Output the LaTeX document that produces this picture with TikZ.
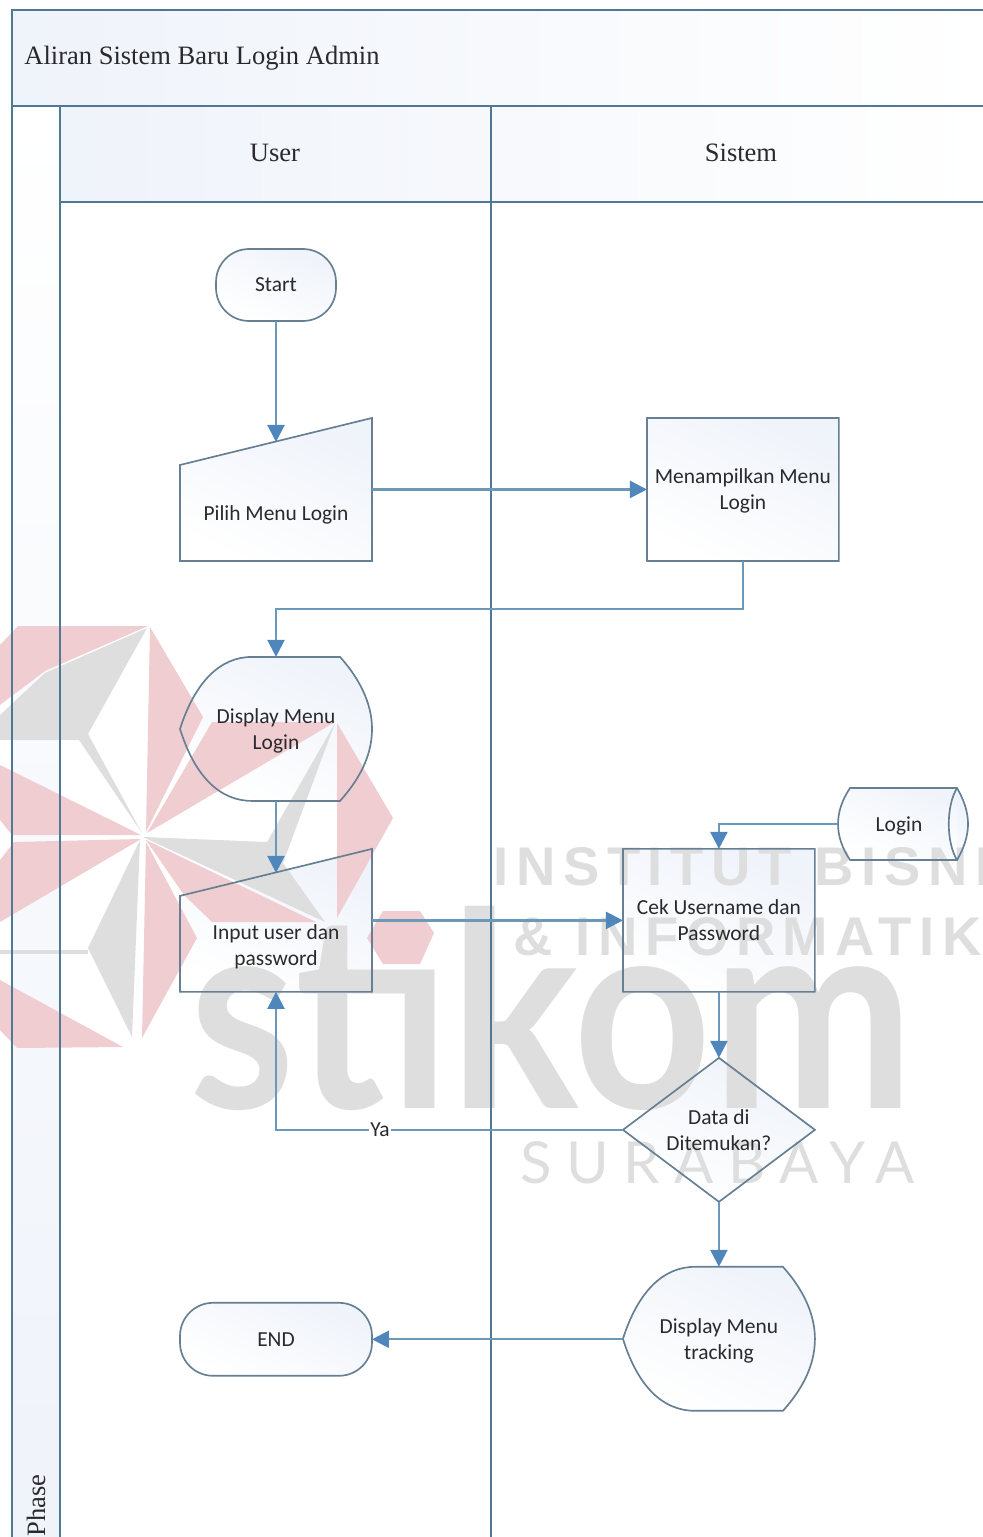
\documentclass[tikz,border=0pt]{standalone}
\usepackage{fontspec}
\usepackage{xcolor}
\usetikzlibrary{arrows.meta,positioning,calc}
\setmainfont{Carlito}
\newfontfamily\titlefont{Liberation Serif}
\newfontfamily\markfont{Lato}
\newfontfamily\markwide[LetterSpace=14]{Liberation Sans}
\newfontfamily\markthin[LetterSpace=25]{Lato}
\definecolor{Tint}{HTML}{EFF3FA}
\definecolor{Edge}{HTML}{667F92}
\definecolor{Lane}{HTML}{4F7894}
\definecolor{Wire}{HTML}{6C98BA}
\definecolor{Tip}{HTML}{4F87BC}
\definecolor{Ink}{HTML}{2A2A2E}
\definecolor{MarkPink}{HTML}{F0CDD1}
\definecolor{MarkGrey}{HTML}{DEDEDE}
\pgfdeclarelayer{back}
\pgfsetlayers{back,main}
\tikzset{
  x=0.02cm,y=-0.02cm,
  flowbox/.style={rectangle,inner sep=0pt,outer sep=0pt,minimum width=3.84cm,align=center,text=Ink,text depth=0pt,font=\fontsize{12.2}{14.7}\selectfont},
  headtext/.style={inner sep=0pt,text=Ink,font=\titlefont\fontsize{15.1}{18}\selectfont},
  tintfill/.style={top color=Tint,bottom color=white,shading angle=-25},
  outline/.style={draw=Edge,line width=0.95pt},
  lane/.style={draw=Lane,line width=0.9pt},
  arr/.style={-{Triangle[length=0.34cm,width=0.34cm,color=Tip]},draw=Wire,line width=1.35pt}
}
% the symbol outlines, from the north west corner of their node
\newcommand{\manualpath}{(0,47) -- (192,0) -- (192,143) -- (0,143) -- cycle}
\newcommand{\displaypath}{(0,72) .. controls (15,25) and (40,0) .. (72,0) -- (160,0) .. controls (178,20) and (192,45) .. (192,72) .. controls (192,100) and (178,124) .. (160,144) -- (72,144) .. controls (40,144) and (15,120) .. (0,72) -- cycle}
\newcommand{\drawsymbols}[1]{
  \foreach \n in {pilih,inputuser} \path[#1,shift={(\n.north west)}] \manualpath;
  \foreach \n in {displaylogin,displaytrack} \path[#1,shift={(\n.north west)}] \displaypath;
  \foreach \n/\r in {menu/0.01pt,cek/0.01pt,start/0.66cm,finish/0.66cm}
    \path[#1,rounded corners=\r] (\n.north west) rectangle (\n.south east);
  \path[#1] (found.west) -- (found.north) -- (found.east) -- (found.south) -- cycle;
  \path[#1,shift={(logindb.north west)}] (12,0) -- (119,0) .. controls (126,12) and (130,24) .. (130,36) .. controls (130,48) and (126,60) .. (119,72) -- (12,72) .. controls (4,60) and (0,48) .. (0,36) .. controls (0,24) and (4,12) .. (12,0) -- cycle;
  \path[#1,shift={(logindb.north west)}] (119,0) .. controls (108,18) and (108,54) .. (119,72);
}

\begin{document}
\begin{tikzpicture}[node distance=1.94cm and 5.5cm]
  \useasboundingbox (0,0) rectangle (983,1537);

  % User lane
  \node[flowbox,minimum width=2.4cm,minimum height=1.44cm] (start) at (276,285) {Start};
  \node[flowbox,minimum height=2.86cm,below=of start,
        label={[flowbox,minimum width=0pt,yshift=-0.48cm]center:Pilih Menu Login}] (pilih) {};
  \node[flowbox,minimum height=2.88cm,below=1.92cm of pilih] (displaylogin) {Display Menu\\Login};
  \node[flowbox,minimum height=2.86cm,below=0.96cm of displaylogin,
        label={[flowbox,minimum width=0pt,yshift=-0.5cm]center:{Input user dan\\password}}] (inputuser) {};

  % Sistem lane
  \node[flowbox,minimum height=2.86cm,right=of pilih] (menu) {Menampilkan Menu\\Login};
  \node[flowbox,minimum height=2.86cm,right=5.02cm of inputuser] (cek) {Cek Username  dan\\Password};
  \node[flowbox,minimum height=2.88cm,below=1.32cm of cek] (found) {Data di\\Ditemukan?};
  \node[flowbox,minimum height=2.9cm,below=1.3cm of found] (displaytrack) {Display Menu\\tracking};
  \node[flowbox,minimum width=3.84cm,minimum height=1.46cm,left=5.02cm of displaytrack] (finish) {END};
  \node[flowbox,minimum width=2.6cm,minimum height=1.44cm] (logindb) at (903,824) {Login\hspace{0.16cm}};

  % lane heads
  \node[headtext,anchor=west] (title) at (24,58) {Aliran Sistem Baru Login Admin};
  \node[headtext] (usercol) at (275,153) {User};
  \node[headtext] (sistemcol) at (741,153) {Sistem};
  \node[headtext,rotate=90,anchor=west] (phase) at (36,1537) {Phase};

  \coordinate (pilihtop) at ($(pilih.south)+(0,-119)$);
  \coordinate (inputtop) at ($(inputuser.south)+(0,-119)$);

  \begin{pgfonlayer}{back}
    \shade[left color=Tint,right color=white] (12,10) rectangle (983,106);
    \shade[left color=Tint,right color=white] (60,106) rectangle (983,202);
    \shade[top color=white,bottom color=Tint] (12,106) rectangle (60,1537);
    \drawsymbols{tintfill}

    % logo behind the chart
    \fill[MarkPink] (148,626) -- (18,626) -- (0,645) -- (0,705) -- (45,671) -- cycle;
    \fill[MarkPink] (150,627) -- (203,717) -- (146,832) -- cycle;
    \fill[MarkPink] (147,833) -- (212,722) -- (335,722) -- cycle;
    \fill[MarkPink] (337,723) -- (393,818) -- (337,918) -- cycle;
    \fill[MarkPink] (146,840) -- (316,922) -- (212,922) -- (184,895) -- cycle;
    \fill[MarkPink] (146,842) -- (197,938) -- (142,1038) -- cycle;
    \fill[MarkPink] (0,765) -- (141,835) -- (12,835) -- (0,820) -- cycle;
    \fill[MarkPink] (141,839) -- (14,842) -- (0,860) -- (0,922) -- cycle;
    \fill[MarkPink] (0,980) -- (123,1047) -- (17,1048) -- (0,1030) -- cycle;
    \fill[MarkGrey] (147,628) -- (88,734) -- (142,833) -- (79,740) -- (0,740) -- (0,715) -- (45,673) -- cycle;
    \fill[MarkGrey] (143,837) -- (267,842) -- (335,723) -- (283,863) -- (325,922) -- cycle;
    \fill[MarkGrey] (140,840) -- (88,948) -- (132,1037) -- cycle;
    \fill[MarkGrey] (0,950) rectangle (88,954);
    \node[anchor=base west,inner sep=0pt,text=MarkGrey,xscale=0.885,font=\markfont\bfseries\fontsize{155}{155}\selectfont] (stikom) at (189,1108) {stıkom};
    \fill[MarkPink] (383,911) -- (420,911) -- (434,933) -- (420,964) -- (383,964) -- (367,938) -- cycle;
    \node[anchor=base west,inner sep=0pt,text=MarkGrey,font=\markwide\bfseries\fontsize{31}{31}\selectfont] (instbisnis) at (493,885) {INSTITUT BISNIS};
    \node[anchor=base west,inner sep=0pt,text=MarkGrey,font=\markwide\bfseries\fontsize{31}{31}\selectfont] (informatika) at (513,955) {\& INFORMATIKA};
    \node[anchor=base west,inner sep=0pt,text=MarkGrey,font=\markthin\fontsize{33}{33}\selectfont] (surabaya) at (520,1183) {SURABAYA};
  \end{pgfonlayer}

  % lanes
  \draw[lane,line width=1.5pt] (983,10) -- (12,10) -- (12,1537);
  \draw[lane] (12,106) -- (983,106);
  \draw[lane] (60,202) -- (983,202);
  \draw[lane,line width=1.2pt] (60,106) -- (60,1537);
  \draw[lane] (491,106) -- (491,1537);
  \drawsymbols{outline}

  \draw[arr] (start) -- (pilihtop);
  \draw[arr] (pilih.east) -- (menu.west);
  \draw[arr] (menu.south) |- ($(menu.south)!0.5!(displaylogin.north)$) -| (displaylogin.north);
  \draw[arr] (displaylogin) -- (inputtop);
  \draw[arr] (inputuser.east) -- (cek.west);
  \draw[arr] (logindb.west) -| (cek.north);
  \draw[arr] (cek) -- (found);
  \draw[arr] (found.west) -- node[pos=0.7,fill=white,inner sep=1pt,text=Ink,font=\fontsize{12.2}{14.7}\selectfont] (ya) {Ya} (found.west -| inputuser.south) -- (inputuser.south);
  \draw[arr] (found) -- (displaytrack);
  \draw[arr] (displaytrack.west) -- (finish.east);
\end{tikzpicture}
\end{document}
